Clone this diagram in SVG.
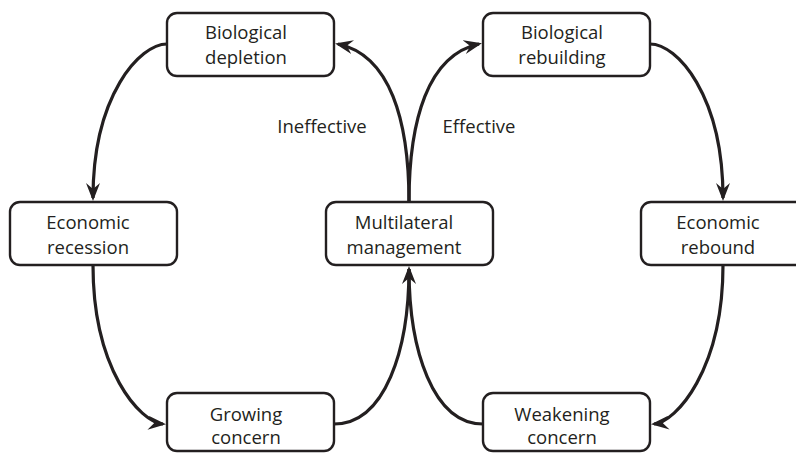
<svg xmlns="http://www.w3.org/2000/svg" width="796" height="453" viewBox="0 0 796 453">
<defs>
<marker id="arr" markerUnits="userSpaceOnUse" viewBox="0 0 18 14" markerWidth="18" markerHeight="14" refX="15" refY="7" orient="auto">
<path d="M0,0 L18,7 L0,14 L6,7 Z" fill="#231f20"/>
</marker>
<style>
.box{fill:#fff;stroke:#231f20;stroke-width:2.4}
.t{font-family:"Open Sans","Liberation Sans",sans-serif;font-size:18.5px;fill:#231f20;text-anchor:middle}
.e{fill:none;stroke:#231f20;stroke-width:3.2}
</style>
</defs>
<rect width="796" height="453" fill="#fff"/>
<g id="connectors">
<path class="e" d="M167,44 C140,44 93,95 93,198" marker-end="url(#arr)"/>
<path class="e" d="M93,265 C93,370 140,422 163,424" marker-end="url(#arr)"/>
<path class="e" d="M334,424 C385,424 409,350 409,269" marker-end="url(#arr)"/>
<path class="e" d="M483,424 C433,424 409,350 409,269"/>
<path class="e" d="M409,202 C409,120 390,55 338,44" marker-end="url(#arr)"/>
<path class="e" d="M409,202 C409,120 428,55 479,44" marker-end="url(#arr)"/>
<path class="e" d="M650,44 C677,44 723,95 723,198" marker-end="url(#arr)"/>
<path class="e" d="M723,265 C723,370 676,422 654,424" marker-end="url(#arr)"/>
</g>
<g id="n-bd"><rect class="box" x="167" y="13" width="167" height="63" rx="10"/><text class="t" x="246" y="39">Biological</text><text class="t" x="246" y="64">depletion</text></g>
<g id="n-br"><rect class="box" x="483" y="13" width="167" height="63" rx="10"/><text class="t" x="562" y="39">Biological</text><text class="t" x="562" y="64">rebuilding</text></g>
<g id="n-er"><rect class="box" x="10" y="202" width="167" height="63" rx="10"/><text class="t" x="88" y="229">Economic</text><text class="t" x="88" y="254">recession</text></g>
<g id="n-mm"><rect class="box" x="326" y="202" width="167" height="63" rx="10"/><text class="t" x="404" y="229">Multilateral</text><text class="t" x="404" y="254">management</text></g>
<g id="n-eb"><rect class="box" x="641" y="202" width="167" height="63" rx="10"/><text class="t" x="718" y="229">Economic</text><text class="t" x="718" y="254">rebound</text></g>
<g id="n-gc"><rect class="box" x="167" y="393" width="167" height="58" rx="10"/><text class="t" x="246" y="421">Growing</text><text class="t" x="246" y="444">concern</text></g>
<g id="n-wc"><rect class="box" x="483" y="393" width="167" height="58" rx="10"/><text class="t" x="562" y="421">Weakening</text><text class="t" x="562" y="444">concern</text></g>
<g id="labels">
<text class="t" x="322" y="133">Ineffective</text>
<text class="t" x="479" y="133">Effective</text>
</g>
</svg>
